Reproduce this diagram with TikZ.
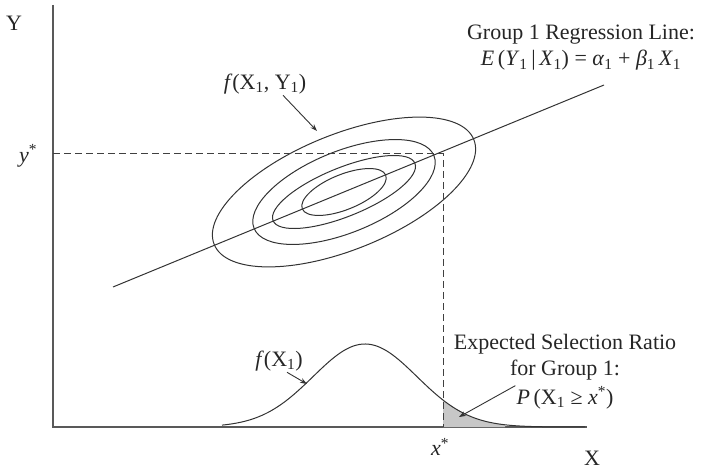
\documentclass[tikz,border=0pt]{standalone}
\usepackage{fontspec}
\setmainfont{Liberation Serif}
\usetikzlibrary{arrows.meta,positioning,calc}
\tikzset{
    axisline/.style={
        line width=1.1pt,         % ejes algo mas gruesos
        draw=black!65
    },
    contour/.style={
        line width=1pt,           % curvas de nivel y densidad
        draw=black!80
    },
    guideline/.style={
        dash pattern=on 7pt off 4pt, % discontinua para y* y x*
        line width=1pt,
        draw=black!75
    },
    pointer/.style={
        -{Stealth[length=7pt,width=5pt]}, % flecha de etiqueta
        line width=0.9pt,
        draw=black!80
    },
    txt/.style={
        font=\fontsize{22}{26}\selectfont, % texto del libro
        text=black!85,
        inner sep=1pt,
        align=center
    }
}

\begin{document}
\begin{tikzpicture}[x=1pt,y=-1pt]
    \useasboundingbox (0,0) rectangle (701,470);

    % ejes
    \coordinate (origin) at (53,427);
    \coordinate (ytop) at (53,5);
    \coordinate (xend) at (587,427);
    \draw[axisline] (ytop) -- (origin) -- (xend);
    \node[txt] (ylab) at (14,23) {Y};
    \node[txt] (xlab) at (592,458) {X};

    % recta de regresion
    \coordinate (regstart) at (113,287);
    \coordinate (regend) at (604,85);
    \draw[contour] (regstart) -- (regend);

    % elipses de f(X1,Y1)
    \coordinate (center) at (344,192);
    \draw[contour, rotate around={22:(center)}] (center) ellipse [x radius=45, y radius=17.6];
    \draw[contour, rotate around={22:(center)}] (center) ellipse [x radius=76.5, y radius=24.4];
    \draw[contour, rotate around={22:(center)}] (center) ellipse [x radius=97, y radius=40.8];
    \draw[contour, rotate around={22:(center)}] (center) ellipse [x radius=140, y radius=57.7];

    % densidad marginal f(X1)
    \fill[black!22] (443,427) -- plot[domain=443:505,samples=30] (\x,{427-83*exp(-0.5*((\x-365)/52)^2)}) -- (505,427) -- cycle;
    \draw[contour] plot[domain=222:585,samples=120] (\x,{427-83*exp(-0.5*((\x-365)/52)^2)});

    % lineas y*, x*
    \coordinate (ystar) at (53,154);
    \coordinate (corner) at (443,154);
    \coordinate (xstar) at (443,427);
    \draw[guideline] (ystar) -- (corner) -- (xstar);
    \node[txt] (ystarlab) at (28,156) {\textit{y}\textsuperscript{*}};
    \node[txt] (xstarlab) at (440,447) {\textit{x}\textsuperscript{*}};

    % etiquetas
    \node[txt] (reglab) at (581,48) {Group 1 Regression Line:\\
        \textit{E}\,(\textit{Y}\textsubscript{1}\,|\,\textit{X}\textsubscript{1}) = \textit{α}\textsubscript{1} + \textit{β}\textsubscript{1}\,\textit{X}\textsubscript{1}};

    \node[txt] (jointlab) at (265,84) {\textit{f}(X\textsubscript{1}, Y\textsubscript{1})};
    \coordinate (jointtip) at (317,131);
    \draw[pointer] ([xshift=18pt]jointlab.south) -- (jointtip);

    \node[txt] (marglab) at (279,361) {\textit{f}(X\textsubscript{1})};
    \coordinate (margtip) at (307,384);
    \draw[pointer] ([xshift=8pt]marglab.south) -- (margtip);

    \node[txt] (ratiolab) at (565,357) {Expected Selection Ratio\\for Group 1:};
    \node[txt] (ratioeq) at (565,398) {\textit{P}\,(X\textsubscript{1} ≥ \textit{x}\textsuperscript{*})};
    \coordinate (ratiotip) at (459,417);
    \draw[pointer] (ratioeq.north west) -- (ratiotip);
\end{tikzpicture}
\end{document}
